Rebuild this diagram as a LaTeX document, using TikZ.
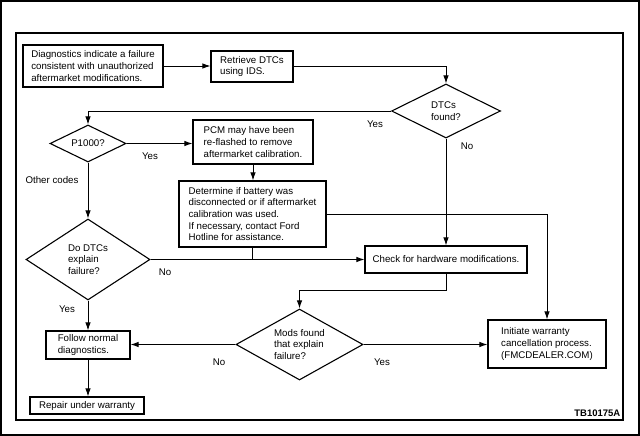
\documentclass[tikz,border=0pt]{standalone}
\usepackage{fontspec}
\setmainfont{Liberation Sans}
\usetikzlibrary{shapes.geometric,arrows.meta}
\begin{document}
\begin{tikzpicture}[x=1pt,y=-1pt,
  every node/.style={font=\fontsize{9.7}{11.6}\selectfont},
  box/.style={draw,line width=1.1pt,rectangle,align=left,inner sep=0pt},
  dia/.style={draw,line width=1.1pt,diamond,align=left,inner sep=0pt},
  lbl/.style={inner sep=0pt},
  conn/.style={line width=0.9pt},
  arr/.style={conn,-{Latex[length=8pt,width=5.5pt]}}]
\useasboundingbox (0,0) rectangle (640,436);
\draw[line width=1.4pt] (1,1) rectangle (639,435);
\draw[line width=1.2pt] (16,33) rectangle (623,420);

\node[box,minimum width=140,minimum height=42] (diag) at (93,66) {Diagnostics indicate a failure\\consistent with unauthorized\\aftermarket modifications.};
\node[box,minimum width=82,minimum height=31] (retr) at (252,66.5) {Retrieve DTCs\\using IDS.};
\node[dia,aspect=2,minimum width=109,minimum height=54] (dtcs) at (446,111) {DTCs\\found?};
\node[dia,aspect=2,minimum width=76,minimum height=37] (p1000) at (88,143.5) {P1000?};
\node[box,minimum width=120,minimum height=44] (pcm) at (253,142) {PCM may have been\\re-flashed to remove\\aftermarket calibration.};
\node[box,minimum width=147,minimum height=66] (det) at (252.5,214) {Determine if battery was\\disconnected or if aftermarket\\calibration was used.\\If necessary, contact Ford\\Hotline for assistance.};
\node[box,minimum width=162,minimum height=27] (check) at (446,259.5) {Check for hardware modifications.};
\node[dia,aspect=1.53,minimum width=124,minimum height=81] (dodtc) at (88,259.5) {Do DTCs\\explain\\failure?};
\node[box,minimum width=84,minimum height=28] (follow) at (88,345) {Follow normal\\diagnostics.};
\node[box,minimum width=114,minimum height=17] (repair) at (87,405.5) {Repair under warranty};
\node[dia,aspect=1.8,minimum width=127,minimum height=71] (mods) at (299.5,344.5) {Mods found\\that explain\\failure?};
\node[box,minimum width=118,minimum height=48] (init) at (547,344) {Initiate warranty\\cancellation process.\\(FMCDEALER.COM)};

\node[lbl] (yes1) at (375,124) {Yes};
\node[lbl] (no1) at (467,146) {No};
\node[lbl] (yes2) at (150,156) {Yes};
\node[lbl] (other) at (52,180) {Other codes};
\node[lbl] (no2) at (165,272) {No};
\node[lbl] (yes3) at (67,309) {Yes};
\node[lbl] (no3) at (219,362) {No};
\node[lbl] (yes4) at (382,362) {Yes};
\node[lbl,anchor=east,font=\fontsize{9.5}{11}\selectfont\bfseries] (tb) at (620.5,413) {TB10175A};

\draw[arr] (diag.east) -- (diag.east -| retr.west);
\draw[arr] (retr.east) -| (dtcs.north);
\draw[arr] (dtcs.west) -| (p1000.north);
\draw[arr] (p1000.east) -- (p1000.east -| pcm.west);
\draw[arr] (pcm.south) -- (pcm.south |- det.north);
\draw[arr] (p1000.south) -- (dodtc.north);
\draw[arr] (dtcs.south) -- (check.north);
\draw[arr] (det.east) -| (init.north);
\draw[arr] (dodtc.east) -- (dodtc.east -| check.west);
\draw[conn] (det.south) -- (det.south |- dodtc.east);
\draw[arr] (dodtc.south) -- (dodtc.south |- follow.north);
\draw[arr] (follow.south) -- (follow.south |- repair.north);
\draw[arr] (check.south) -- ++(0,17) -| (mods.north);
\draw[arr] (mods.west) -- (mods.west -| follow.east);
\draw[arr] (mods.east) -- (mods.east -| init.west);
\end{tikzpicture}
\end{document}
